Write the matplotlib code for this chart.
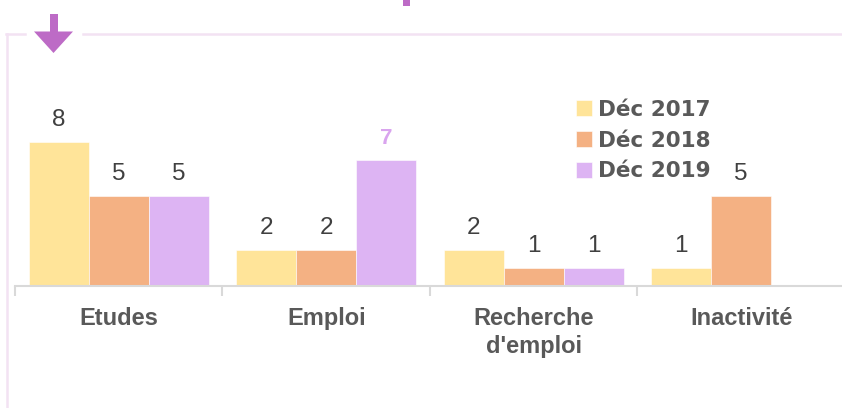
import numpy as np
import matplotlib
matplotlib.use("Agg")
import matplotlib.pyplot as plt
from matplotlib.patches import Polygon, Rectangle
from matplotlib.lines import Line2D

categories = ["Etudes", "Emploi", "Recherche\nd'emploi", "Inactivité"]
series_names = ["Déc 2017", "Déc 2018", "Déc 2019"]
dec2017 = [8, 2, 2, 1]
dec2018 = [5, 2, 1, 5]
dec2019 = [5, 7, 1, np.nan]
values = [dec2017, dec2018, dec2019]

colors = ["#FFE499", "#F4B183", "#DDB4F3"]
frame_col = "#F3E2F3"
accent = "#BD6BC6"
W, H = 842, 408

fig = plt.figure(figsize=(W / 100, H / 100), dpi=100)
fig.patch.set_facecolor("white")

def fx(x):
    return x / W

def fy(y):
    return 1 - y / H

# axes: left 15px, baseline 286px, top 106px, right 845px
ax = fig.add_axes([fx(15), fy(286), 830 / W, 180 / H])
ax.set_xlim(-0.5, 3.5)
ax.set_ylim(0, 10)

bw = 0.289
x = np.arange(len(categories))
for i, (name, vals, col) in enumerate(zip(series_names, values, colors)):
    pos = x + (i - 1) * bw
    v = np.array(vals, dtype=float)
    ax.bar(pos, np.nan_to_num(v), width=bw, color=col, label=name,
           edgecolor="white", linewidth=0.4)
    for px_, val in zip(pos, v):
        if np.isnan(val):
            continue
        highlight = (name == "Déc 2019" and val == np.nanmax(v))
        ax.annotate(f"{int(val)}", (px_, val), xytext=(0, 11), textcoords="offset pixels",
                    ha="center", va="bottom",
                    fontsize=17.5 if not highlight else 16,
                    fontweight="bold" if highlight else "normal",
                    color="#D9A4EE" if highlight else "#404040",
                    family="Liberation Sans")

for s in ["top", "right", "left"]:
    ax.spines[s].set_visible(False)
ax.spines["bottom"].set_color("#D9D9D9")
ax.spines["bottom"].set_linewidth(1.5)
ax.set_yticks([])
ax.set_xticks(x)
ax.set_xticklabels(categories, fontsize=17, fontweight="bold", color="#595959",
                   family="Liberation Sans", linespacing=1.3)
ax.tick_params(axis="x", which="major", length=0, pad=15)
ax.set_xticks(np.arange(-0.5, 4, 1), minor=True)
ax.tick_params(axis="x", which="minor", length=7, color="#D9D9D9", width=1.5)

leg = ax.legend(loc="upper left", bbox_to_anchor=(fx(565), fy(89)),
                bbox_transform=fig.transFigure, frameon=False,
                handlelength=0.75, handleheight=0.75, handletextpad=0.3,
                labelspacing=0.5, borderpad=0,
                prop={"family": "DejaVu Sans", "weight": "bold", "size": 15.5})
for t in leg.get_texts():
    t.set_color("#595959")

# frame lines
fig.add_artist(Line2D([fx(6.5), fx(6.5)], [fy(34), fy(410)], color=frame_col, lw=1.8,
                      transform=fig.transFigure))
fig.add_artist(Line2D([fx(5.5), fx(25)], [fy(34), fy(34)], color=frame_col, lw=1.8,
                      transform=fig.transFigure))
fig.add_artist(Line2D([fx(83), fx(845)], [fy(34), fy(34)], color=frame_col, lw=1.8,
                      transform=fig.transFigure))

# arrow
fig.add_artist(Rectangle((fx(49.5), fy(32)), 8 / W, 18 / H, color=accent,
                         transform=fig.transFigure, lw=0))
fig.add_artist(Polygon([[fx(34), fy(31.5)], [fx(73), fy(31.5)], [fx(53.5), fy(53)]],
                       closed=True, color=accent, transform=fig.transFigure, lw=0))
# cut-off title mark
fig.add_artist(Rectangle((fx(403), fy(6)), 7 / W, 6 / H, color=accent,
                         transform=fig.transFigure, lw=0))

fig.savefig("out.png", dpi=100, facecolor="white")
